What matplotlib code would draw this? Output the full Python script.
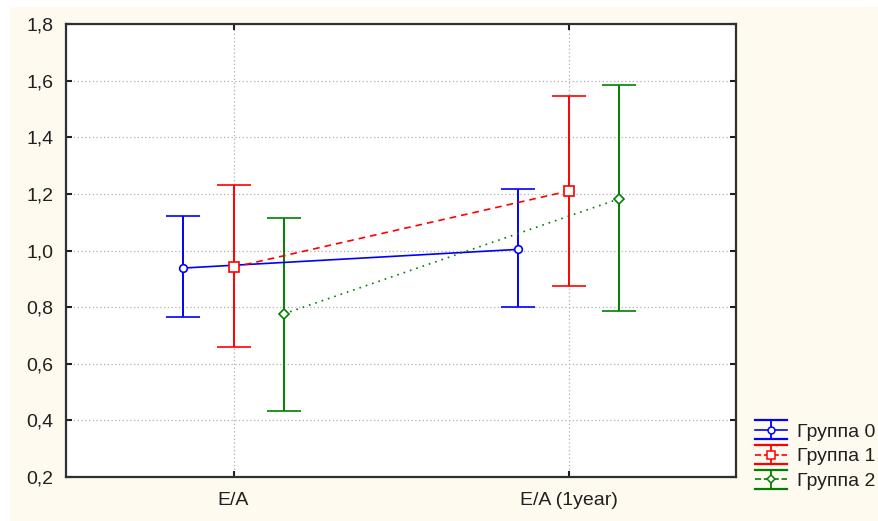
import matplotlib
matplotlib.use("Agg")
import matplotlib.pyplot as plt
import matplotlib.patches as mpatches
from matplotlib.lines import Line2D
from matplotlib.ticker import FuncFormatter, MultipleLocator
from matplotlib.legend_handler import HandlerBase
import numpy as np

plt.rcParams['font.family'] = ['Liberation Sans', 'DejaVu Sans']

categories = ["E/A", "E/A (1year)"]
groups = ["Группа 0", "Группа 1", "Группа 2"]
means = {
    "Группа 0": [0.938, 1.004],
    "Группа 1": [0.941, 1.210],
    "Группа 2": [0.776, 1.182],
}
upper = {
    "Группа 0": [1.123, 1.216],
    "Группа 1": [1.231, 1.546],
    "Группа 2": [1.116, 1.585],
}
lower = {
    "Группа 0": [0.766, 0.801],
    "Группа 1": [0.659, 0.873],
    "Группа 2": [0.433, 0.786],
}

colors = ["#0000FF", "#FF0000", "#008000"]
markers = ["o", "s", "D"]
msizes = [5.5, 6.5, 5]
lstyles = ["-", (0, (4, 3)), (0, (1, 3))]
offsets = [-0.15, 0.0, 0.15]

W, H = 879, 521
fig = plt.figure(figsize=(W / 100, H / 100), dpi=100, facecolor="white")
fig.patches.append(mpatches.Rectangle((10 / W, 0), 1 - 10 / W, 1 - 7 / H,
                                      transform=fig.transFigure,
                                      facecolor="#FFFAF0", edgecolor="none", zorder=-10))
ax = fig.add_axes([66 / W, 1 - 477 / H, (736 - 66) / W, (477 - 24) / H])
ax.set_facecolor("white")

x = np.arange(len(categories))
proxies = []
for g, c, m, ms, ls, off in zip(groups, colors, markers, msizes, lstyles, offsets):
    mu = np.array(means[g])
    up = np.array(upper[g])
    lo = np.array(lower[g])
    ax.errorbar(x + off, mu, yerr=[mu - lo, up - mu], color=c, ecolor=c,
                elinewidth=1.4, capsize=12, capthick=1.6,
                linestyle=ls, linewidth=1.2,
                marker=m, markersize=ms, markerfacecolor="white",
                markeredgecolor=c, markeredgewidth=1.2, zorder=3)
    proxies.append(Line2D([], [], color=c, linestyle=ls, linewidth=1.2, marker=m,
                          markersize=ms * 0.9, markerfacecolor="white",
                          markeredgecolor=c, markeredgewidth=1.1))


class ErrHandler(HandlerBase):
    def create_artists(self, legend, orig_handle, xdescent, ydescent, width, height,
                       fontsize, trans):
        c = orig_handle.get_color()
        yc = height / 2 - ydescent
        x0, x1 = -xdescent, width - xdescent
        xm = (x0 + x1) / 2
        d = 6.8
        arts = []
        main = Line2D([x0, x1], [yc, yc], color=c, linestyle=orig_handle.get_linestyle(),
                      linewidth=1.2, transform=trans)
        arts.append(main)
        for yy in (yc - d, yc + d):
            arts.append(Line2D([x0, x1], [yy, yy], color=c, linewidth=1.6, transform=trans))
        arts.append(Line2D([xm, xm], [yc - d, yc + d], color=c, linewidth=1.3, transform=trans))
        arts.append(Line2D([xm], [yc], linestyle="none", marker=orig_handle.get_marker(),
                           markersize=orig_handle.get_markersize(), markerfacecolor="white",
                           markeredgecolor=c, markeredgewidth=1.1, transform=trans))
        return arts


ax.set_xlim(-0.5, 1.5)
ax.set_ylim(0.2, 1.8)
ax.set_xticks(x)
ax.set_xticklabels(categories)
ax.yaxis.set_major_locator(MultipleLocator(0.2))
ax.yaxis.set_major_formatter(FuncFormatter(lambda v, p: f"{v:.1f}".replace(".", ",")))
ax.grid(True, color="#b0b0b0", linestyle=(0, (1, 2)), linewidth=0.9)
ax.set_axisbelow(True)
ax.tick_params(direction="in", length=4, width=1.5, top=True, right=True,
               labelsize=14, colors="#202020", pad=9)
ax.tick_params(axis="x", pad=11)
for s in ax.spines.values():
    s.set_linewidth(1.6)
    s.set_color("#303030")

leg = fig.legend(handles=proxies, labels=groups, loc="upper left",
                 bbox_to_anchor=(755 / W, 1 - 423 / H), frameon=False,
                 fontsize=14, handlelength=1.64, handletextpad=0.51,
                 labelspacing=0.37, borderpad=0, borderaxespad=0,
                 handler_map={Line2D: ErrHandler()})
for t in leg.get_texts():
    t.set_color("#202020")

fig.savefig("out.png", dpi=100, facecolor=fig.get_facecolor())
